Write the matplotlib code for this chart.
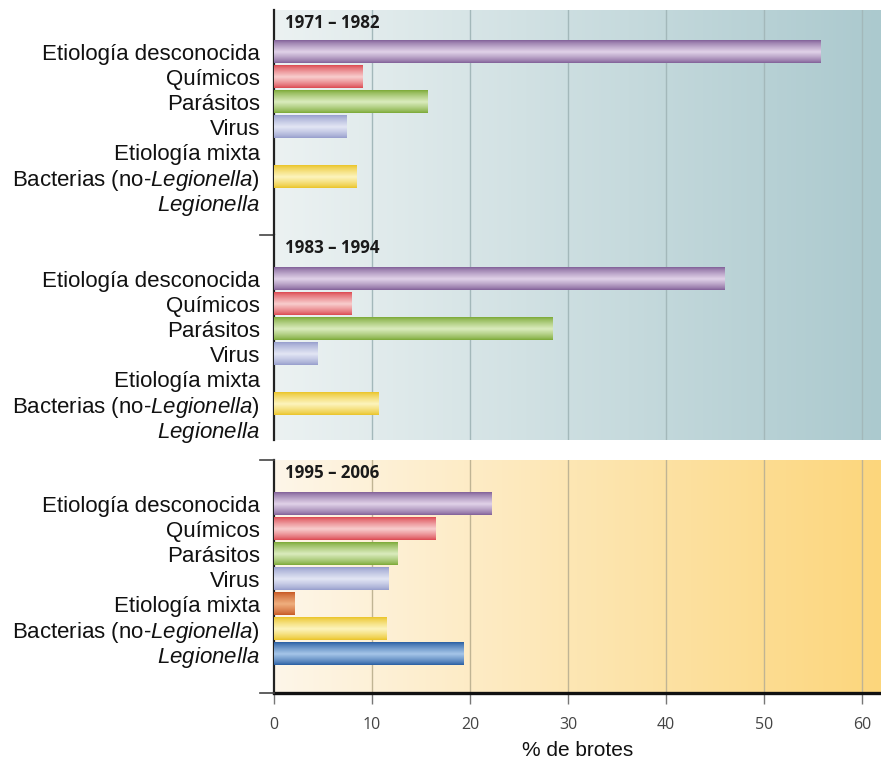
import numpy as np
import matplotlib.pyplot as plt
from matplotlib.colors import to_rgb

plt.rcParams['font.family'] = ['Liberation Sans', 'DejaVu Sans']
plt.rcParams['mathtext.fontset'] = 'custom'
plt.rcParams['mathtext.it'] = 'Liberation Sans:italic'
plt.rcParams['mathtext.rm'] = 'Liberation Sans'

# Categorías y porcentajes de brotes por periodo
categorias = ['Etiología desconocida', 'Químicos', 'Parásitos', 'Virus',
              'Etiología mixta', r'Bacterias (no-$\mathit{Legionella)}$',
              r'$\mathit{Legionella}$']
periodos = ['1971 – 1982', '1983 – 1994', '1995 – 2006']
brotes_1971 = [55.7, 9.0, 15.7, 7.4, 0, 8.4, 0]
brotes_1983 = [45.9, 7.9, 28.4, 4.4, 0, 10.7, 0]
brotes_1995 = [22.2, 16.5, 12.6, 11.7, 2.1, 11.5, 19.3]
valores = [brotes_1971, brotes_1983, brotes_1995]
ticks_x = [0, 10, 20, 30, 40, 50, 60]

# (borde oscuro, brillo central) para cada barra
colores = [('#836299', '#e2d4ea'), ('#dc4a52', '#f9d0d0'), ('#7daa38', '#dcedc0'),
           ('#979fcd', '#e4e7f5'), ('#c85a25', '#f0b080'), ('#ebc52a', '#fdf5c0'),
           ('#2a5fa3', '#a8c8ea')]

fondos = [('#ecf2f2', '#abc9ce'), ('#ecf2f2', '#abc9ce'), ('#fef6e9', '#fcd67c')]

W, H = 881, 764
fig = plt.figure(figsize=(W / 100, H / 100), dpi=100)

# paneles en pixeles: (arriba, abajo), y limites en unidades de categoria
paneles = [(10, 235, -1.68, 7.32), (235, 440, -1.76, 6.44), (460, 693, -1.76, 7.56)]
x0, xmax = 274, 61.9


def barra_tubo(ax, y, largo, oscuro, claro, alto=0.9):
    if largo <= 0:
        return
    t = np.linspace(-1, 1, 40)
    w = (1 - np.abs(t)) ** 0.8
    w = np.where(t < 0, w * 0.95, w)
    c0 = np.array(to_rgb(oscuro))
    c1 = np.array(to_rgb(claro))
    img = c0[None, :] * (1 - w[:, None]) + c1[None, :] * w[:, None]
    img = img[:, None, :]
    ax.imshow(img, extent=[0, largo, y + alto / 2, y - alto / 2], aspect='auto',
              interpolation='bilinear', zorder=3, origin='upper')


axes = []
for k, (top, bot, ytop, ybot) in enumerate(paneles):
    ax = fig.add_axes([x0 / W, 1 - bot / H, (W - x0) / W, (bot - top) / H])
    axes.append(ax)
    # fondo degradado horizontal
    g = np.linspace(0, 1, 256)
    a, b = np.array(to_rgb(fondos[k][0])), np.array(to_rgb(fondos[k][1]))
    grad = a[None, :] * (1 - g[:, None]) + b[None, :] * g[:, None]
    ax.imshow(grad[None, :, :], extent=[0, 1, 0, 1], transform=ax.transAxes,
              aspect='auto', zorder=0)
    for xv in ticks_x[1:]:
        ax.axvline(xv, color='#a3b8ba' if k < 2 else '#c0b494', lw=1, zorder=1)
    for i, v in enumerate(valores[k]):
        barra_tubo(ax, i, v, *colores[i])
    ax.set_xlim(0, xmax)
    ax.set_ylim(ybot, ytop)
    ax.text(1.1, ytop + 0.5, periodos[k], fontsize=12.2, fontweight='bold',
            family=['Open Sans', 'DejaVu Sans'], color='#1a1a1a', va='center', zorder=4)
    for sp in ['top', 'right', 'bottom']:
        ax.spines[sp].set_visible(False)
    ax.spines['left'].set_color('#222222')
    ax.spines['left'].set_linewidth(1.6)
    ax.set_yticks(range(len(categorias)))
    ax.set_yticklabels(categorias, fontsize=16)
    ax.tick_params(axis='y', length=0, pad=10, colors='#111111')
    ax.set_xticks([])

# marcas en el eje izquierdo entre paneles
for ax, pos in [(axes[0], 'bottom'), (axes[2], 'top'), (axes[2], 'bottom')]:
    yv = ax.get_ylim()[0] if pos == 'bottom' else ax.get_ylim()[1]
    ax.plot([-1.4, 0], [yv, yv], color='#444444', lw=1.2, clip_on=False, zorder=5)

ax3 = axes[2]
ax3.spines['bottom'].set_visible(True)
ax3.spines['bottom'].set_color('#111111')
ax3.spines['bottom'].set_linewidth(2.4)
ax3.set_xticks(ticks_x)
ax3.set_xticklabels([str(t) for t in ticks_x], family=['Open Sans', 'DejaVu Sans'],
                    fontsize=11.5, color='#444444')
ax3.tick_params(axis='x', length=8, width=1, color='#777777', pad=9)
ax3.set_xlabel('% de brotes', fontsize=15, labelpad=6, color='#111111')

fig.savefig('out.png', dpi=100, facecolor='white')
